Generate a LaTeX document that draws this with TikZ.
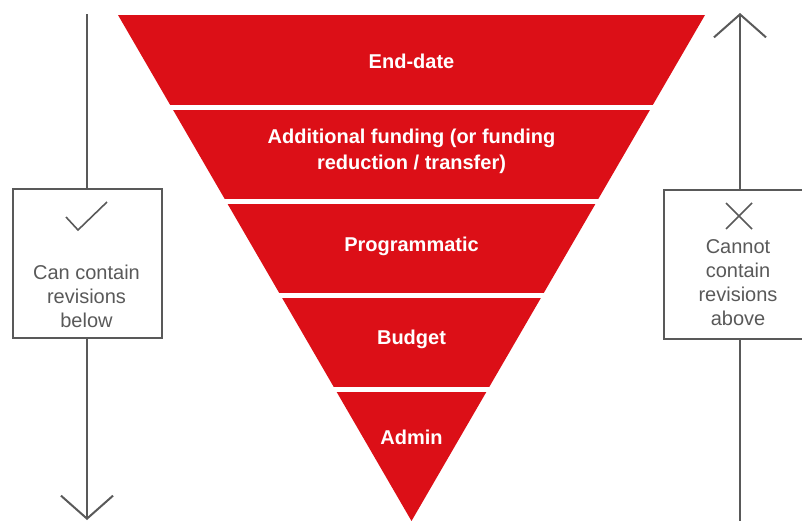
\documentclass[tikz,border=0pt]{standalone}
\usepackage{fontspec}
\setmainfont{Liberation Sans}
\usetikzlibrary{arrows.meta}
\definecolor{funnelred}{HTML}{DC0F17}
\definecolor{linegray}{HTML}{595959}

\begin{document}
\begin{tikzpicture}[x=1pt, y=-1pt,
    band/.style={text=white, font=\fontsize{20}{26}\selectfont\bfseries,
        align=center, inner sep=0pt},
    gap/.style={white, line width=5pt},
    sidebox/.style={draw=linegray, line width=2pt, minimum height=149pt,
        inner sep=0pt},
    sidetext/.style={text=linegray, font=\fontsize{20}{24}\selectfont,
        align=center, inner sep=0pt},
    flow/.style={draw=linegray, line width=2pt},
    signline/.style={draw=linegray, line width=1.6pt}]
    \useasboundingbox (0,0) rectangle (802,520);
    \clip (0,0) rectangle (802,520);

    % funnel and the white cuts between its bands
    \fill[funnelred] (118,15) -- (705,15) -- (411.5,521) -- cycle;
    \draw[gap] (150,107) -- (680,107);
    \draw[gap] (150,201.5) -- (680,201.5);
    \draw[gap] (150,295) -- (680,295);
    \draw[gap] (150,389.5) -- (680,389.5);

    \node[band] (enddate) at (411.5,61) {End-date};
    \node[band] (funding) at (411.5,151) {Additional funding (or funding\\reduction / transfer)};
    \node[band] (prog) at (411.5,246) {Programmatic};
    \node[band] (budget) at (411.5,339) {Budget};
    \node[band] (admin) at (411.5,437) {Admin};

    % left side: can contain
    \node[sidebox, minimum width=149pt] (lbox) at (87,263.5) {};
    \draw[signline] (66,217) -- (78,230) -- (107,202);
    \node[sidetext] (ltext) at (86.5,296) {Can contain\\revisions\\below};
    \coordinate (ltop) at (87,14);
    \coordinate (lbot) at (87,520);
    \draw[flow] (ltop) -- (lbox.north);
    \draw[flow, -{Straight Barb[length=23pt,width=52pt]}] (lbox.south) -- (lbot);

    % right side: cannot contain
    \node[sidebox, minimum width=152pt] (rbox) at (740,264) {};
    \draw[signline] (726,203) -- (752,229);
    \draw[signline] (726,229) -- (752,203);
    \node[sidetext] (rtext) at (738,283) {Cannot\\contain\\revisions\\above};
    \coordinate (rtop) at (740,13);
    \coordinate (rbot) at (740,521);
    \draw[flow] (rbot) -- (rbox.south);
    \draw[flow, -{Straight Barb[length=23pt,width=52pt]}] (rbox.north) -- (rtop);
\end{tikzpicture}
\end{document}
